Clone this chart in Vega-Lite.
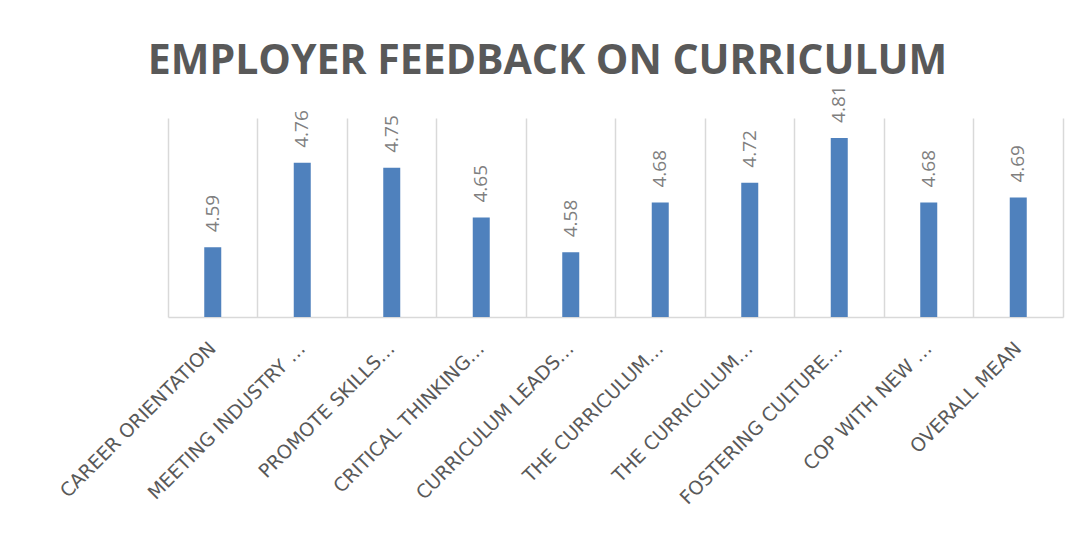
{
  "$schema": "https://vega.github.io/schema/vega-lite/v6.json",
  "autosize": {"type": "none"},
  "width": 895,
  "height": 199,
  "padding": {"left": 168, "top": 118, "right": 16, "bottom": 223},
  "background": "white",
  "title": {
    "text": "EMPLOYER FEEDBACK ON CURRICULUM",
    "font": "Open Sans",
    "fontSize": 41,
    "fontWeight": "bold",
    "color": "#595959",
    "anchor": "middle",
    "frame": "group",
    "dx": -68,
    "baseline": "alphabetic",
    "offset": -30
  },
  "config": {"view": {"stroke": null}},
  "data": {
    "values": [
      {"key": "1|CAREER ORIENTATION", "value": 4.59},
      {"key": "2|MEETING INDUSTRY …", "value": 4.76},
      {"key": "3|PROMOTE SKILLS…", "value": 4.75},
      {"key": "4|CRITICAL THINKING…", "value": 4.65},
      {"key": "5|CURRICULUM LEADS…", "value": 4.58},
      {"key": "6|THE CURRICULUM…", "value": 4.68},
      {"key": "7|THE CURRICULUM…", "value": 4.72},
      {"key": "8|FOSTERING CULTURE…", "value": 4.81},
      {"key": "9|COP WITH NEW …", "value": 4.68},
      {"key": "10|OVERALL MEAN", "value": 4.69}
    ]
  },
  "encoding": {
    "x": {
      "field": "key",
      "type": "nominal",
      "sort": null,
      "scale": {"paddingInner": 0, "paddingOuter": 0},
      "axis": {
        "title": null,
        "labelExpr": "split(datum.label, '|')[1]",
        "labelAngle": -45,
        "labelAlign": "right",
        "labelBaseline": "middle",
        "labelFont": "DejaVu Sans",
        "labelFontSize": 19,
        "labelColor": "#595959",
        "labelPadding": 28,
        "labelLimit": 400,
        "ticks": false,
        "grid": true,
        "gridColor": "#d9d9d9",
        "gridWidth": 1.5,
        "bandPosition": 0,
        "domain": true,
        "domainColor": "#d9d9d9",
        "domainWidth": 1.5
      }
    }
  },
  "layer": [
    {
      "mark": {"type": "bar", "width": 17, "color": "#4f81bd"},
      "encoding": {
        "y": {
          "field": "value",
          "type": "quantitative",
          "scale": {"domain": [4.45, 4.85], "zero": false, "nice": false},
          "axis": {"orient": "left", "title": null, "labels": false, "ticks": false, "grid": false, "domain": false}
        },
        "y2": {"datum": 4.45}
      }
    },
    {
      "mark": {"type": "text", "angle": 270, "align": "left", "baseline": "middle", "dx": 15, "font": "Open Sans", "fontSize": 19, "color": "#7f7f7f"},
      "encoding": {
        "y": {
          "field": "value",
          "type": "quantitative",
          "scale": {"domain": [4.45, 4.85], "zero": false, "nice": false},
          "axis": {"orient": "right", "title": null, "labels": false, "ticks": false, "grid": false, "domain": true, "domainColor": "#d9d9d9", "domainWidth": 1.5}
        },
        "text": {"field": "value", "type": "quantitative", "format": ".2f"}
      }
    }
  ],
  "resolve": {"axis": {"y": "independent"}}
}
